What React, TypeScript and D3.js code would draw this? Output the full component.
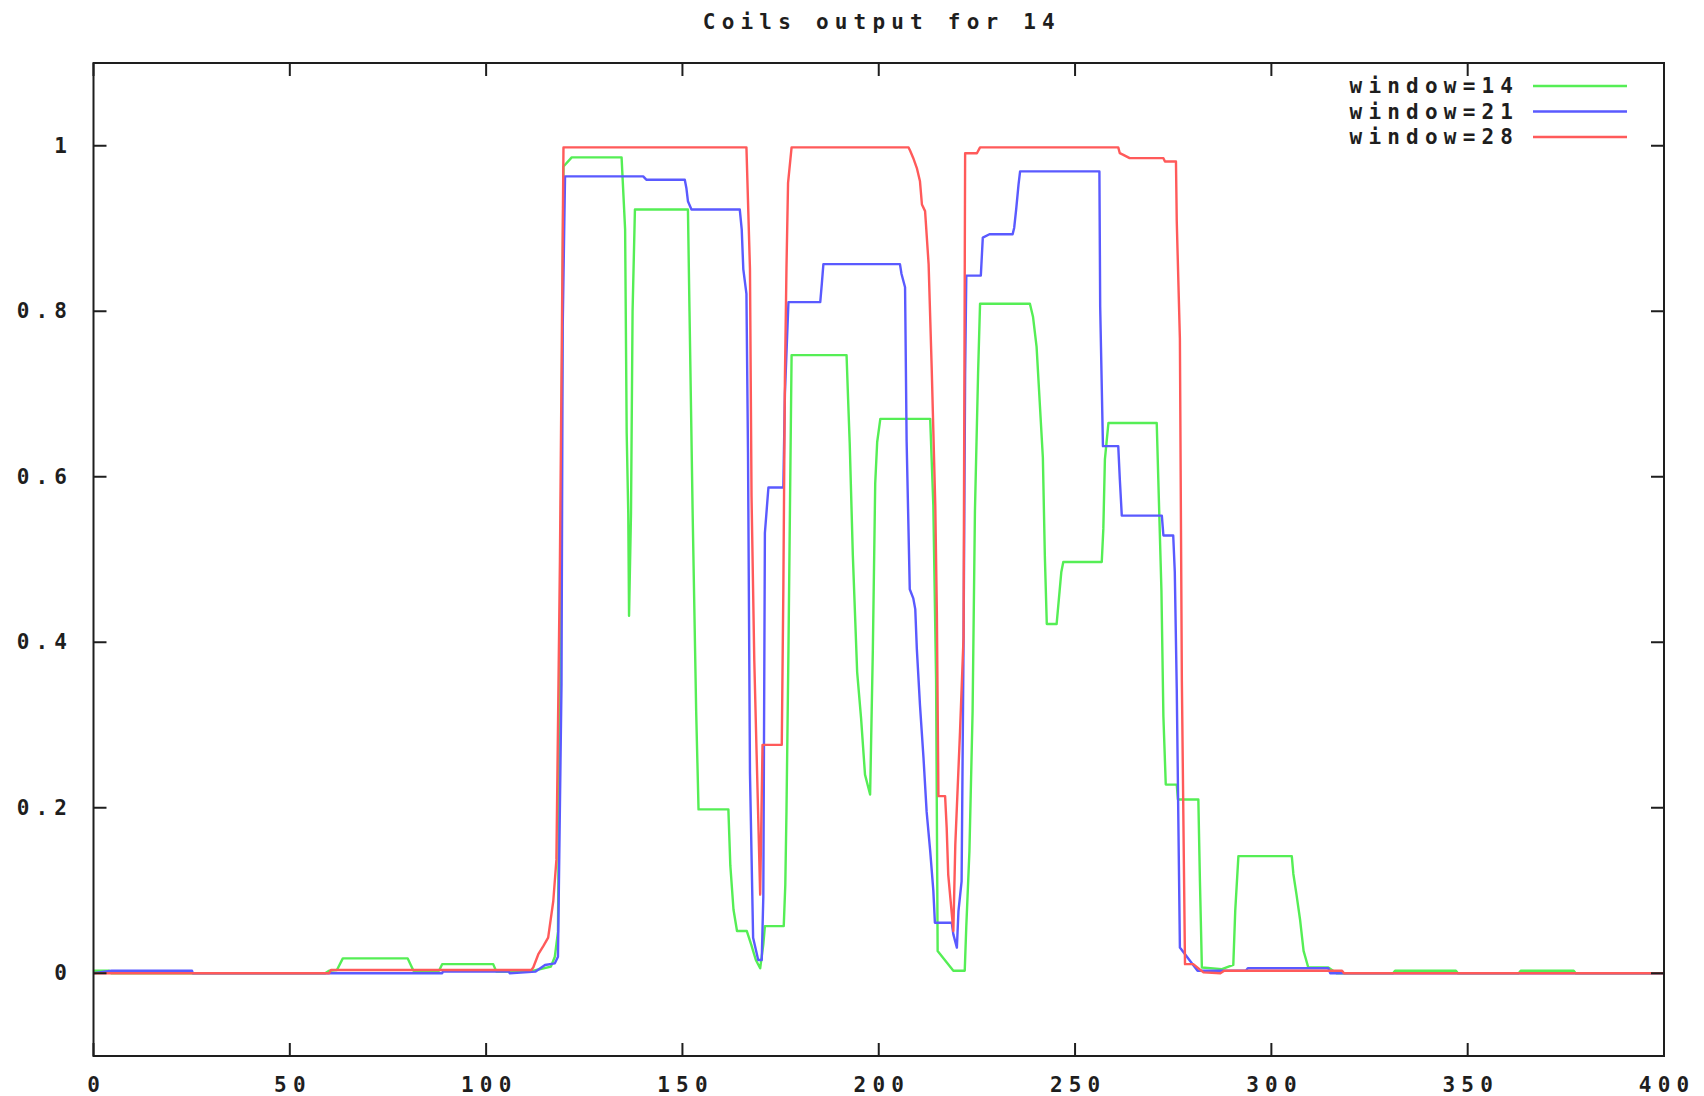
import React from 'react';
import * as d3 from 'd3';

const chartTitle = 'Coils output for 14';
const seriesNames = ['window=14', 'window=21', 'window=28'];
const xTicks = [0, 50, 100, 150, 200, 250, 300, 350, 400];
const yTicks = [0, 0.2, 0.4, 0.6, 0.8, 1];
const yTickLabels = ['0', '0.2', '0.4', '0.6', '0.8', '1'];

// [x, value] breakpoints
const window14: [number, number][] = [
  [0, 0.003], [4, 0.003], [4.5, 0], [59, 0], [60, 0.003], [62, 0.004], [63.5, 0.018], [80, 0.018],
  [81.5, 0.003], [88, 0.003], [88.8, 0.011], [101.8, 0.011], [102.6, 0.002], [111, 0.002], [112, 0.003],
  [116.5, 0.008], [117.5, 0.02], [118.3, 0.05], [119, 0.5], [119.7, 0.975], [121.8, 0.986], [134.5, 0.986],
  [134.8, 0.957], [135.4, 0.899], [135.8, 0.653], [136.2, 0.556], [136.4, 0.432], [136.9, 0.556], [137.3, 0.8],
  [137.9, 0.923], [151.4, 0.923], [151.8, 0.8], [152.6, 0.556], [153.5, 0.316], [154.1, 0.198], [161.7, 0.198],
  [162.2, 0.13], [163, 0.077], [163.9, 0.051], [166.4, 0.051], [167.5, 0.035], [168.7, 0.016], [169.8, 0.006],
  [170.6, 0.035], [171, 0.057], [175.8, 0.057], [176.2, 0.107], [176.5, 0.196], [177, 0.39], [177.8, 0.747],
  [191.8, 0.747], [192.2, 0.693], [192.6, 0.641], [193.4, 0.505], [194.5, 0.364], [195.5, 0.308], [196.5, 0.24],
  [197.8, 0.216], [198.5, 0.392], [199.1, 0.592], [199.6, 0.642], [200.4, 0.67], [213.1, 0.67], [213.9, 0.565],
  [214.6, 0.356], [215, 0.027], [219, 0.003], [221.9, 0.003], [222.3, 0.057], [223.1, 0.148], [223.9, 0.316],
  [224.5, 0.559], [225.3, 0.725], [225.8, 0.809], [238.5, 0.809], [239.3, 0.793], [240.2, 0.757], [241, 0.69],
  [241.8, 0.623], [242.3, 0.505], [242.8, 0.422], [245.3, 0.422], [246.5, 0.485], [247, 0.497], [256.8, 0.497],
  [257.2, 0.537], [257.6, 0.621], [258.5, 0.665], [270.8, 0.665], [271.2, 0.597], [272, 0.462], [272.5, 0.31],
  [273.1, 0.228], [275.9, 0.228], [276.2, 0.21], [281.4, 0.21], [281.8, 0.112], [282.3, 0.007], [287.4, 0.005],
  [290.3, 0.01], [290.8, 0.076], [291.6, 0.1415], [305.2, 0.1415], [305.6, 0.12], [306.4, 0.095], [307.3, 0.065],
  [308.2, 0.027], [309.4, 0.007], [314.5, 0.007], [316.6, 0], [331, 0], [331.5, 0.003], [347, 0.003], [347.5, 0],
  [363, 0], [363.5, 0.003], [377, 0.003], [377.5, 0], [400, 0],
];

const window21: [number, number][] = [
  [0, 0], [4.6, 0.003], [25.1, 0.003], [25.3, 0], [88.8, 0], [89, 0.002], [105.8, 0.002], [106, 0],
  [112.6, 0.002], [115, 0.01], [117.5, 0.012], [118.3, 0.02], [119.2, 0.35], [119.5, 0.78], [120.1, 0.963],
  [140, 0.963], [140.8, 0.959], [150.6, 0.959], [151, 0.949], [151.4, 0.933], [152.3, 0.923], [164.6, 0.923],
  [165.1, 0.899], [165.5, 0.851], [166.3, 0.821], [166.7, 0.629], [167.2, 0.242], [168, 0.043], [169.3, 0.016],
  [170.2, 0.016], [170.6, 0.093], [171, 0.532], [171.9, 0.587], [175.7, 0.587], [176.1, 0.7], [177, 0.811],
  [185.1, 0.811], [185.5, 0.833], [185.9, 0.857], [205.4, 0.857], [205.8, 0.845], [206.7, 0.829], [207.1, 0.643],
  [207.9, 0.464], [208.8, 0.453], [209.3, 0.44], [209.7, 0.392], [210.5, 0.324], [211.4, 0.26], [212.2, 0.195],
  [213.1, 0.148], [213.9, 0.1], [214.3, 0.061], [218.6, 0.061], [219, 0.047], [219.9, 0.031], [220.3, 0.075],
  [221.1, 0.111], [221.6, 0.4], [222, 0.723], [222.3, 0.843], [226, 0.843], [226.5, 0.889], [228.2, 0.893],
  [234.1, 0.893], [234.5, 0.901], [235, 0.923], [235.6, 0.953], [236, 0.969], [256.2, 0.969], [256.4, 0.805],
  [257.1, 0.637], [261, 0.637], [261.4, 0.597], [261.9, 0.553], [272.1, 0.553], [272.5, 0.529], [275, 0.529],
  [275.4, 0.485], [275.9, 0.344], [276.7, 0.031], [281.2, 0.003], [293.5, 0.003], [294, 0.006], [314.5, 0.006],
  [315, 0], [400, 0],
];

const window28: [number, number][] = [
  [0, 0], [60, 0], [60.5, 0.004], [111.5, 0.004], [112, 0.007], [113.3, 0.023], [114.6, 0.033], [115.8, 0.043],
  [117.1, 0.087], [117.9, 0.137], [118.8, 0.5], [119.7, 0.998], [166.3, 0.998], [167.2, 0.851], [167.6, 0.576],
  [168.3, 0.378], [168.9, 0.264], [169.8, 0.095], [170.4, 0.276], [175.3, 0.276], [175.7, 0.464], [176.1, 0.719],
  [176.5, 0.853], [176.9, 0.955], [177.8, 0.998], [207.6, 0.998], [208, 0.994], [208.8, 0.985], [209.7, 0.973],
  [210.5, 0.957], [211, 0.929], [211.8, 0.921], [212.7, 0.857], [213.5, 0.729], [214.4, 0.565], [214.8, 0.436],
  [215.2, 0.214], [216.9, 0.214], [217.3, 0.176], [217.7, 0.119], [218.6, 0.072], [219, 0.051], [219.5, 0.156],
  [220.7, 0.292], [221.6, 0.406], [222, 0.991], [225, 0.991], [225.8, 0.998], [261, 0.998], [261.4, 0.991],
  [262.3, 0.989], [263.9, 0.985], [272.5, 0.985], [272.9, 0.981], [275.7, 0.981], [275.9, 0.909], [276.7, 0.767],
  [277.2, 0.354], [278, 0.011], [280.1, 0.011], [282.7, 0.001], [287, 0], [288, 0.003], [318, 0.003], [318.5, 0],
  [400, 0],
];

const allSeries = [window14, window21, window28];

const W = 1704;
const H = 1096;
const margin = { left: 93.5, right: 40, top: 63, bottom: 40 };
const colors = ['#55ee55', '#5a5aff', '#ff5a5a'];
const font = "'DejaVu Sans Mono', monospace";
const fontSize = 21;
const spacing = 6.2;
const ink = '#1e1e1e';
const tickLen = 13;

const App = () => {
  const x = d3.scaleLinear().domain([0, 400]).range([margin.left, W - margin.right]);
  const y = d3.scaleLinear().domain([-0.1, 1.1]).range([H - margin.bottom, margin.top]);
  const line = d3.line<[number, number]>()
    .x(d => x(d[0]))
    .y(d => y(d[1]));

  const [x0, x1] = x.range();
  const [y0, y1] = y.range(); // y0 bottom, y1 top

  const textStyle = { fontFamily: font, fontSize, fontWeight: 'bold' as const, letterSpacing: spacing, fill: ink };

  return (
    <div style={{ position: 'absolute', left: 0, top: 0 }}>
      <svg width={W} height={H} style={{ display: 'block', background: '#fff' }}>
        <text x={(x0 + x1) / 2 + spacing / 2} y={22} textAnchor="middle" dominantBaseline="central" style={textStyle}>
          {chartTitle}
        </text>

        {/* data lines */}
        <g fill="none" strokeWidth={2.4} strokeLinejoin="round">
          {allSeries.map((s, i) => (
            <path key={i} d={line(s) ?? ''} stroke={colors[i]} />
          ))}
        </g>

        {/* frame and ticks */}
        <g stroke={ink} strokeWidth={2}>
          <rect x={x0} y={y1} width={x1 - x0} height={y0 - y1} fill="none" />
          {xTicks.map(t => (
            <g key={'x' + t}>
              <line x1={x(t)} x2={x(t)} y1={y0} y2={y0 - tickLen} />
              <line x1={x(t)} x2={x(t)} y1={y1} y2={y1 + tickLen} />
            </g>
          ))}
          {yTicks.map(t => (
            <g key={'y' + t}>
              <line x1={x0} x2={x0 + tickLen} y1={y(t)} y2={y(t)} />
              <line x1={x1} x2={x1 - tickLen} y1={y(t)} y2={y(t)} />
            </g>
          ))}
        </g>

        {xTicks.map(t => (
          <text key={'xl' + t} x={x(t) + spacing / 2} y={y0 + 29} textAnchor="middle" dominantBaseline="central" style={textStyle}>
            {String(t)}
          </text>
        ))}
        {yTicks.map((t, i) => (
          <text key={'yl' + t} x={67 + spacing} y={y(t)} textAnchor="end" dominantBaseline="central" style={textStyle}>
            {yTickLabels[i]}
          </text>
        ))}

        {/* legend */}
        {seriesNames.map((name, i) => {
          const ly = 86 + i * 25.5;
          return (
            <g key={name}>
              <text x={1513 + spacing} y={ly} textAnchor="end" dominantBaseline="central" style={textStyle}>
                {name}
              </text>
              <line x1={1533} x2={1627} y1={ly} y2={ly} stroke={colors[i]} strokeWidth={2.4} />
            </g>
          );
        })}
      </svg>
    </div>
  );
};

export default App;
